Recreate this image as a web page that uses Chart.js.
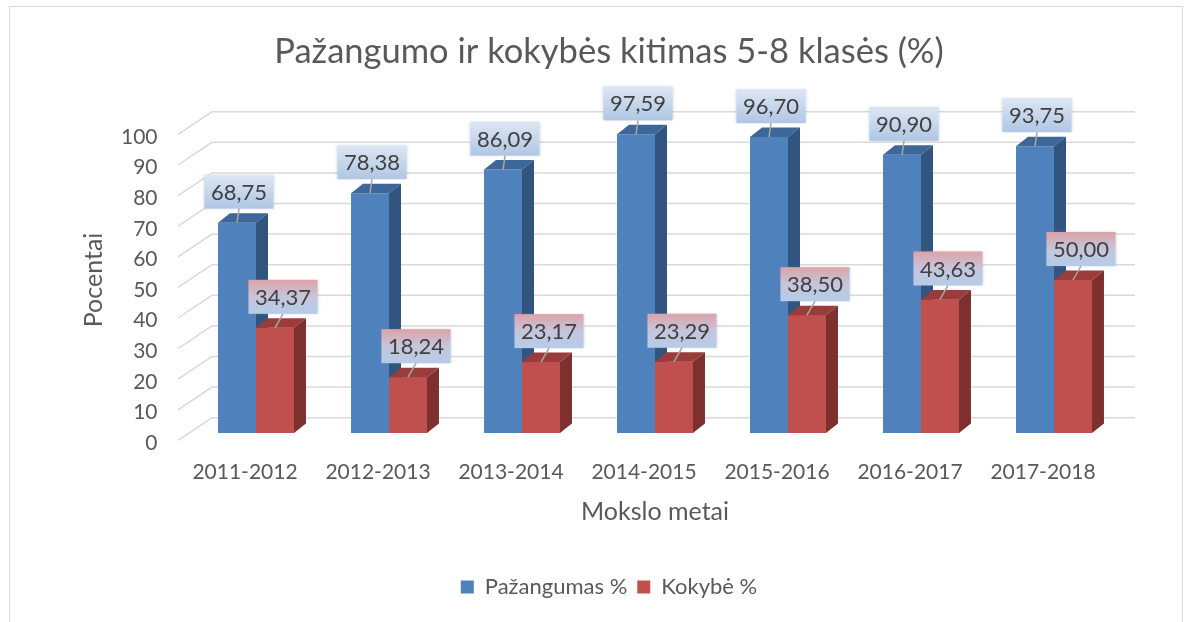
<!DOCTYPE html>
<html><head><meta charset="utf-8">
<script src="https://cdn.jsdelivr.net/npm/chart.js@4/dist/chart.umd.min.js"></script>
<style>
html,body{margin:0;padding:0;background:#fff;overflow:hidden;}
#wrap{position:relative;width:1191px;height:622px;overflow:hidden;}
#frame{position:absolute;left:9px;top:6px;width:1174px;height:700px;border:1px solid #d9d9d9;box-sizing:border-box;}
canvas{position:absolute;left:0;top:0;}
</style></head><body>
<div id="wrap"><div id="frame"></div><canvas id="c" width="1218" height="622"></canvas></div>
<script>
const chartTitle = 'Pažangumo ir kokybės kitimas 5-8 klasės (%)';
const categories = ['2011-2012','2012-2013','2013-2014','2014-2015','2015-2016','2016-2017','2017-2018'];
const pazangumas = [68.75, 78.38, 86.09, 97.59, 96.70, 90.90, 93.75];
const kokybe = [34.37, 18.24, 23.17, 23.29, 38.50, 43.63, 50.00];
const yTicks = [0,10,20,30,40,50,60,70,80,90,100];
const seriesNames = ['Pažangumas %', 'Kokybė %'];
const xTitle = 'Mokslo metai';
const yTitle = 'Pocentai';

const FONT = 'Lato';
const TXT = '#595959';
const faces = [
  {front:'#4F81BD', top:'#3D6699', side:'#31557F'},
  {front:'#C0504D', top:'#9A3D3A', side:'#7E302E'}
];
const DEPTH_X = 12, DEPTH_Y = 9.5;

const threeD = {
  id:'threeD',
  beforeDatasetsDraw(chart){
    const {ctx, chartArea:a, scales:{y}} = chart;
    ctx.save();
    ctx.strokeStyle = '#d9d9d9';
    ctx.lineWidth = 1.5;
    yTicks.forEach(v => {
      const p = y.getPixelForValue(v);
      ctx.beginPath();
      ctx.moveTo(a.left - 11.5, p + 7.4);
      ctx.lineTo(a.left + 22.5, p - 15.3);
      ctx.lineTo(a.right + 14.5, p - 15.3);
      ctx.stroke();
    });
    ctx.restore();
  },
  afterDatasetsDraw(chart){
    const {ctx} = chart;
    const metas = [chart.getDatasetMeta(0), chart.getDatasetMeta(1)];
    ctx.save();
    categories.forEach((c, i) => {
      metas.forEach((m, d) => {
        const el = m.data[i];
        const {x, y, base, width} = el.getProps(['x','y','base','width'], true);
        const l = x - width/2, r = x + width/2;
        const f = faces[d];
        if (d === 1) { ctx.fillStyle = f.front; ctx.fillRect(l, y, width, base - y); }
        ctx.fillStyle = f.top;
        ctx.beginPath();
        ctx.moveTo(l, y); ctx.lineTo(r, y); ctx.lineTo(r + DEPTH_X, y - DEPTH_Y); ctx.lineTo(l + DEPTH_X, y - DEPTH_Y);
        ctx.closePath(); ctx.fill();
        ctx.fillStyle = f.side;
        ctx.beginPath();
        ctx.moveTo(r, y); ctx.lineTo(r + DEPTH_X, y - DEPTH_Y); ctx.lineTo(r + DEPTH_X, base - DEPTH_Y); ctx.lineTo(r, base);
        ctx.closePath(); ctx.fill();
      });
    });
    ctx.restore();
  },
  afterDraw(chart){
    const {ctx} = chart;
    ctx.save();
    ctx.font = '22px ' + FONT;
    ctx.textAlign = 'center';
    ctx.textBaseline = 'middle';
    [0,1].forEach(d => {
      const m = chart.getDatasetMeta(d);
      const vals = chart.data.datasets[d].data;
      m.data.forEach((el, i) => {
        const {x, y} = el.getProps(['x','y'], true);
        const txt = vals[i].toFixed(2).replace('.', ',');
        const w = ctx.measureText(txt).width + 13, h = 34;
        const cx = x + (d === 0 ? 2 : 8);
        const bottom = y - 14, top = bottom - h;
        const g = ctx.createLinearGradient(0, top, 0, bottom);
        if (d === 0) { g.addColorStop(0, '#DEE7F3'); g.addColorStop(1, '#AFC6E4'); }
        else { g.addColorStop(0, '#DCA3A8'); g.addColorStop(0.5, '#C6C5DC'); g.addColorStop(1, '#B5CCE8'); }
        ctx.save();
        ctx.shadowColor = 'rgba(120,140,170,0.35)';
        ctx.shadowBlur = 3;
        ctx.fillStyle = g;
        ctx.fillRect(cx - w/2, top, w, h);
        ctx.restore();
        ctx.fillStyle = '#404040';
        ctx.fillText(txt, cx, top + h/2 + 1);
        ctx.strokeStyle = '#A6A6A6';
        ctx.lineWidth = 1.5;
        ctx.beginPath();
        ctx.moveTo(cx, bottom); ctx.lineTo(x, y);
        ctx.stroke();
      });
    });
    ctx.restore();
  }
};

new Chart(document.getElementById('c'), {
  type:'bar',
  data:{
    labels: categories,
    datasets:[
      {label: seriesNames[0], data: pazangumas, backgroundColor: faces[0].front, borderWidth:0},
      {label: seriesNames[1], data: kokybe, backgroundColor: faces[1].front, borderWidth:0}
    ]
  },
  options:{
    responsive:false,
    devicePixelRatio:1,
    animation:false,
    events:[],
    layout:{padding:{left:0, right:0, top:0, bottom:14}},
    datasets:{bar:{barPercentage:1, categoryPercentage:0.571}},
    plugins:{
      title:{display:true, text: chartTitle, color: TXT, font:{family:FONT, size:34.5, weight:'normal'}, padding:{top:31.3, bottom:54.3}},
      legend:{display:true, position:'bottom',
        labels:{color: TXT, font:{family:FONT, size:22}, boxWidth:13, boxHeight:13, padding:10}},
      tooltip:{enabled:false}
    },
    scales:{
      x:{
        grid:{display:false, drawTicks:false}, border:{display:false},
        ticks:{color: TXT, font:{family:FONT, size:21}, padding:27, labelOffset:-11, maxRotation:0, autoSkip:false},
        title:{display:true, text: xTitle, color: TXT, font:{family:FONT, size:25}, padding:{top:0, bottom:39}},
        afterFit(s){ s.height = 133; }
      },
      y:{
        min:0, max:100,
        grid:{display:false, drawTicks:false}, border:{display:false},
        ticks:{stepSize:10, color: TXT, font:{family:FONT, size:21}, padding:32, labelOffset:10},
        title:{display:true, text: yTitle, color: TXT, font:{family:FONT, size:25}, padding:{top:79, bottom:0}},
        afterFit(s){ s.width = 189.5; }
      },
      yRight:{
        type:'linear', position:'right', display:true,
        grid:{display:false, drawTicks:false}, border:{display:false},
        ticks:{display:false},
        afterFit(s){ s.width = 97.5; }
      }
    }
  },
  plugins:[threeD]
});
</script>
</body></html>
